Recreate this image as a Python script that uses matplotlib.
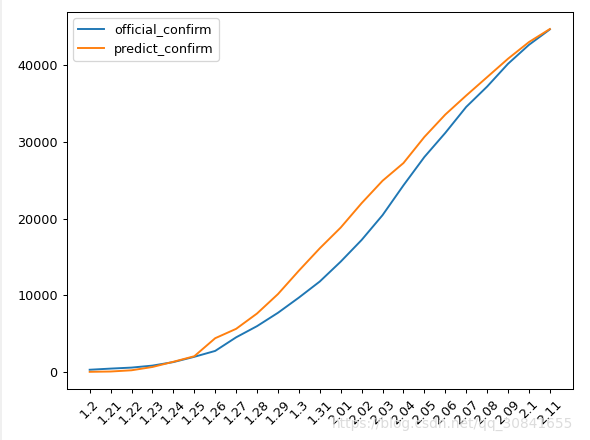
import matplotlib
matplotlib.use('Agg')
import matplotlib.pyplot as plt
from matplotlib.patches import Rectangle

# 日期标签
dates = ['1.2', '1.21', '1.22', '1.23', '1.24', '1.25', '1.26', '1.27', '1.28', '1.29', '1.3', '1.31',
         '2.01', '2.02', '2.03', '2.04', '2.05', '2.06', '2.07', '2.08', '2.09', '2.1', '2.11']

# 官方确诊人数
official_confirm = [291, 440, 571, 830, 1287, 1975, 2744, 4515, 5974, 7711, 9692, 11791,
                    14380, 17205, 20438, 24324, 28018, 31161, 34546, 37198, 40171, 42638, 44653]

# 预测确诊人数
predict_confirm = [20, 60, 220, 650, 1330, 2050, 4400, 5620, 7620, 10150, 13200, 16120,
                   18820, 22000, 24920, 27230, 30630, 33550, 36030, 38430, 40830, 43000, 44700]

fig = plt.figure(figsize=(590 / 92, 440 / 92), dpi=92)
# 左侧浅灰色细边
fig.patches.append(Rectangle((0, 0), 0.0035, 1, transform=fig.transFigure,
                             facecolor='#f0f0f0', edgecolor='none', zorder=0))
ax = fig.add_axes([0.113, 0.116, 0.858, 0.857])
ax.plot(dates, official_confirm, label='official_confirm')
ax.plot(dates, predict_confirm, label='predict_confirm')
plt.xticks(rotation=45)
ax.legend(loc='upper left')

# 水印
fig.text(0.972, 0.02, 'https://blog.csdn.net/qq_30841655', ha='right', va='bottom',
         fontsize=10.8, color='#dcdcdc')

plt.savefig('out.png', dpi=92)
